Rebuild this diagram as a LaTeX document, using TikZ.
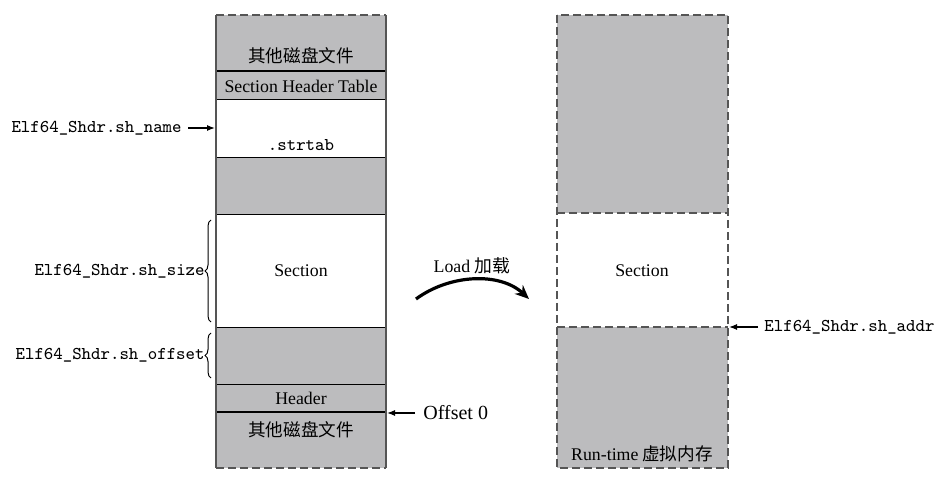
\documentclass[tikz,border=0pt]{standalone}
\usepackage{fontspec}
\setmainfont{Liberation Serif}
\newfontfamily\cjk{Noto Sans CJK SC}
\usetikzlibrary{decorations.pathreplacing,arrows.meta}
\definecolor{boxgray}{HTML}{BCBCBE}
\definecolor{edgegray}{HTML}{555555}
\begin{document}
\begin{tikzpicture}[x=0.5pt,y=-0.5pt,
  txt/.style={font=\fontsize{8.9}{10}\selectfont, inner sep=0pt},
  cjktxt/.style={font=\fontsize{8.8}{10}\selectfont\cjk, inner sep=0pt},
  mono/.style={font=\fontsize{9}{10}\selectfont\ttfamily, inner sep=0pt},
  rowline/.style={draw=black, line width=0.4pt},
  thickrow/.style={draw=black, line width=1.1pt},
  sideline/.style={draw=edgegray, line width=0.6pt},
  dashedge/.style={draw=edgegray, line width=0.6pt, dash pattern=on 4pt off 2pt},
  ptr/.style={-{Latex[length=4pt,width=3pt]}, line width=0.6pt},
  bracestyle/.style={decorate, decoration={brace, amplitude=3pt}, line width=0.5pt}
]
\useasboundingbox (0,0) rectangle (944,481);

% ---------- left column (disk file) ----------
\fill[boxgray] (216,15) rectangle (386,99);
\fill[boxgray] (216,157) rectangle (386,214);
\fill[boxgray] (216,327) rectangle (386,468);
\draw[rowline] (216,99) -- (386,99);
\draw[rowline] (216,157) -- (386,157);
\draw[rowline] (216,214) -- (386,214);
\draw[rowline] (216,327) -- (386,327);
\draw[rowline] (216,384) -- (386,384);
\draw[thickrow] (216,71) -- (386,71);
\draw[thickrow] (216,412) -- (386,412);
\draw[sideline] (216,15) -- (216,468);
\draw[sideline] (386,15) -- (386,468);
\draw[dashedge] (216,15) -- (386,15);
\draw[dashedge] (216,468) -- (386,468);

\node[cjktxt] (otherTop) at (301,56) {其他磁盘文件};
\node[txt] (sht) at (301,86) {Section Header Table};
\node[mono] (strtab) at (301,145) {.strtab};
\node[txt] (secL) at (301,271) {Section};
\node[txt] (hdr) at (301,398) {Header};
\node[cjktxt] (otherBot) at (301,430) {其他磁盘文件};

% ---------- right column (memory) ----------
\fill[boxgray] (557,15) rectangle (728,213);
\fill[boxgray] (557,327) rectangle (728,468);
\draw[dashedge] (557,15) rectangle (728,468);
\draw[dashedge] (557,213) -- (728,213);
\draw[dashedge] (557,327) -- (728,327);
\node[txt] (secR) at (642,271) {Section};
\node[cjktxt] (rt) at (642,454) {{\fontsize{8.9}{10}\selectfont\rmfamily Run-time} 虚拟内存};

% ---------- labels and pointers ----------
\node[mono, anchor=east] (shname) at (182,128) {Elf64\_Shdr.sh\_name};
\coordinate (shnameT) at (215,128);
\draw[ptr] (shname.east) ++(6,0) -- (shnameT);

\node[mono, anchor=east] (shsize) at (205,271) {Elf64\_Shdr.sh\_size};
\coordinate (sizeA) at (211,322);
\coordinate (sizeB) at (211,220);
\draw[bracestyle] (sizeA) -- (sizeB);

\node[mono, anchor=east] (shoff) at (205,355) {Elf64\_Shdr.sh\_offset};
\coordinate (offA) at (211,378);
\coordinate (offB) at (211,333);
\draw[bracestyle] (offA) -- (offB);

\node[font=\fontsize{10}{12}\selectfont, inner sep=0pt, anchor=west] (off0) at (423,413) {Offset 0};
\coordinate (off0T) at (387,413);
\draw[ptr] (off0.west) ++(-8,0) -- (off0T);

\node[mono, anchor=west] (shaddr) at (764,327) {Elf64\_Shdr.sh\_addr};
\coordinate (addrT) at (729,327);
\draw[ptr] (shaddr.west) ++(-6,0) -- (addrT);

% ---------- load arrow ----------
\node[txt] (load) at (472,266) {Load {\cjk 加载}};
\coordinate (ldA) at (416,299);
\coordinate (ldB) at (529,299);
\draw[line width=1.6pt, -{Stealth[length=7pt,width=6pt]}] (ldA) .. controls (450,274) and (500,272) .. (ldB);
\end{tikzpicture}
\end{document}
